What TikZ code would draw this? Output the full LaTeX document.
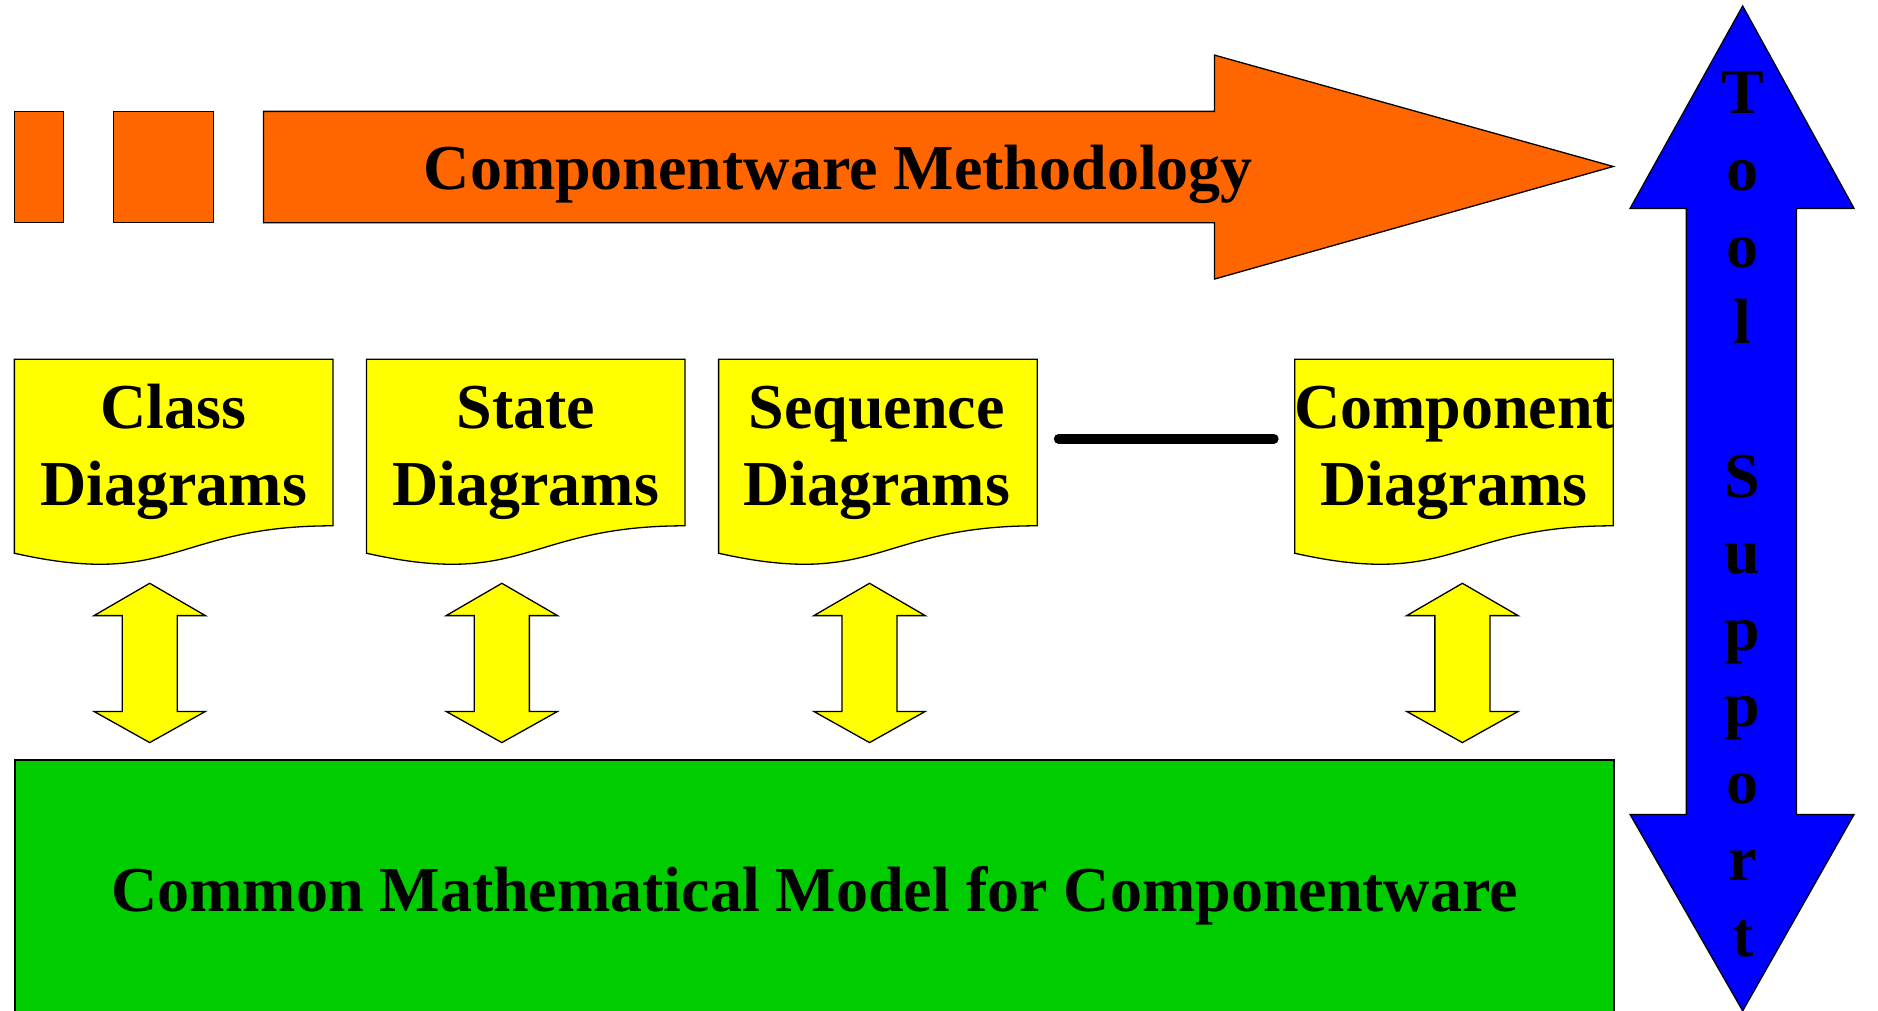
\documentclass[tikz,border=0pt]{standalone}
\usepackage{fontspec}
\setmainfont{Liberation Serif}
\definecolor{orangeC}{HTML}{FF6600}
\definecolor{yellowC}{HTML}{FFFF00}
\definecolor{blueC}{HTML}{0000FF}
\definecolor{greenC}{HTML}{00CC00}
\begin{document}
\begin{tikzpicture}[x=1.1977pt,y=-1.1977pt,
  outl/.style={draw=black,line width=1.3pt,line join=miter},
  orangebox/.style={outl,fill=orangeC},
  bluebox/.style={outl,fill=blueC},
  yellowbox/.style={outl,fill=yellowC},
  greenbox/.style={outl,fill=greenC},
  bigtext/.style={font=\fontsize{64}{76.65}\selectfont\bfseries,inner sep=0pt},
  lbl/.style={bigtext,anchor=base,minimum width=318.6pt},
  bar/.style={draw=black,line width=9.7pt,line cap=round}
]
\useasboundingbox (0,0) rectangle (1568,844);

% orange methodology arrow
\path[orangebox] (12,93) rectangle (53,186);
\path[orangebox] (95,93) rectangle (178,186);
\path[orangebox] (220,93) -- (1014,93) -- (1014,46) -- (1347,139) -- (1014,233) -- (1014,186) -- (220,186) -- cycle;
\node[bigtext,anchor=base] (meth) at (700,158.5) {Componentware Methodology};

% blue tool support arrow
\path[bluebox] (1455,5) -- (1548,174) -- (1500,174) -- (1500,680) -- (1548,680) -- (1455,844)
  -- (1361,680) -- (1408,680) -- (1408,174) -- (1361,174) -- cycle;
\node[bigtext,anchor=base] (tool) at (1455,95)
  {\begin{tabular}[t]{@{}c@{}}T\\o\\o\\l\\ \\S\\u\\p\\p\\o\\r\\t\end{tabular}};

% document shapes
\foreach \L in {12,306,600,1081}{
  \path[yellowbox] (\L,300) -- (\L+266,300) -- (\L+266,439)
    .. controls (\L+133,439) and (\L+133,491.9) .. (\L,461.9) -- cycle;
}
\node[lbl] (cls) at (145,422) {\begin{tabular}[b]{@{}c@{}}Class\\Diagrams\end{tabular}};
\node[lbl] (sta) at (439,422) {\begin{tabular}[b]{@{}c@{}}State\\Diagrams\end{tabular}};
\node[lbl] (seq) at (732,422) {\begin{tabular}[b]{@{}c@{}}Sequence\\Diagrams\end{tabular}};
\node[lbl] (cmp) at (1214,422) {\begin{tabular}[b]{@{}c@{}}Component\\Diagrams\end{tabular}};

\draw[bar,shorten <=22.4pt,shorten >=20pt] ([yshift=13pt]seq.east) -- ([yshift=13pt]cmp.west);

% green model
\node[greenbox,bigtext,anchor=north west,minimum width=1598.9pt,minimum height=273.1pt,
  text height=44pt,text depth=14pt] (model) at (12,634) {Common Mathematical Model for Componentware};

% yellow double arrows
\foreach \c in {125,419,726,1221}{
  \path[yellowbox] (\c,487) -- (\c+46.5,514) -- (\c+23,514) -- (\c+23,594) -- (\c+46.5,594) -- (\c,620)
    -- (\c-46.5,594) -- (\c-23,594) -- (\c-23,514) -- (\c-46.5,514) -- cycle;
}
\end{tikzpicture}
\end{document}
